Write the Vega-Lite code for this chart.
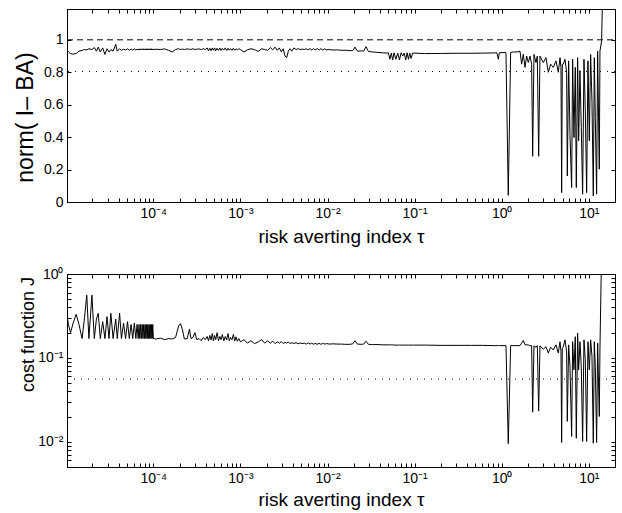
{
  "$schema": "https://vega.github.io/schema/vega-lite/v6.json",
  "autosize": {"type": "pad"},
  "padding": {"left": 13, "top": 8, "right": 0, "bottom": 3},
  "bounds": "flush",
  "spacing": 72,
  "config": {
    "view": {"stroke": "black", "strokeWidth": 1},
    "font": "Liberation Sans",
    "axis": {"domainColor": "black", "tickColor": "black", "labelColor": "black", "titleColor": "black", "grid": false, "labelFont": "Liberation Sans", "titleFont": "Liberation Sans", "labelFontSize": 14, "titleFontWeight": "normal", "tickSize": -4, "labelPadding": 8, "domainWidth": 1, "tickWidth": 1, "labelOverlap": false, "labelFlush": false}
  },
  "datasets": {
    "s": [
      {"x":1.02e-5,"n":0.935,"c":0.32},{"x":1.06e-5,"n":0.925,"c":0.25},{"x":1.12e-5,"n":0.915,"c":0.2},{"x":1.2e-5,"n":0.912,"c":0.26},{"x":1.3e-5,"n":0.915,"c":0.33},{"x":1.4e-5,"n":0.93,"c":0.25},{"x":1.52e-5,"n":0.935,"c":0.17},{"x":1.62e-5,"n":0.94,"c":0.3},{"x":1.72e-5,"n":0.938,"c":0.56},{"x":1.82e-5,"n":0.945,"c":0.17},{"x":1.97e-5,"n":0.94,"c":0.56},{"x":2.1e-5,"n":0.952,"c":0.17},{"x":2.22e-5,"n":0.93,"c":0.29},{"x":2.33e-5,"n":0.955,"c":0.34},{"x":2.46e-5,"n":0.925,"c":0.17},{"x":2.62e-5,"n":0.95,"c":0.27},{"x":2.78e-5,"n":0.91,"c":0.17},{"x":2.94e-5,"n":0.945,"c":0.31},{"x":3.1e-5,"n":0.925,"c":0.17},{"x":3.25e-5,"n":0.94,"c":0.34},{"x":3.45e-5,"n":0.93,"c":0.17},{"x":3.7e-5,"n":0.972,"c":0.29},{"x":3.85e-5,"n":0.93,"c":0.17},{"x":4.1e-5,"n":0.945,"c":0.34},{"x":4.3e-5,"n":0.935,"c":0.17},{"x":4.55e-5,"n":0.942,"c":0.26},{"x":4.8e-5,"n":0.938,"c":0.17},{"x":5.05e-5,"n":0.944,"c":0.27},{"x":5.3e-5,"n":0.936,"c":0.17},{"x":5.55e-5,"n":0.943,"c":0.25},{"x":5.8e-5,"n":0.937,"c":0.17},{"x":6.05e-5,"n":0.944,"c":0.26},{"x":6.3e-5,"n":0.936,"c":0.17},{"x":6.5e-5,"n":0.943,"c":0.25},
      {"x":6.7e-5,"n":0.938,"c":0.17},{"x":6.85e-5,"n":0.944,"c":0.25},{"x":7.0e-5,"n":0.937,"c":0.17},{"x":7.15e-5,"n":0.945,"c":0.25},{"x":7.3e-5,"n":0.938,"c":0.17},{"x":7.45e-5,"n":0.944,"c":0.25},{"x":7.6e-5,"n":0.937,"c":0.17},{"x":7.75e-5,"n":0.945,"c":0.25},{"x":7.9e-5,"n":0.938,"c":0.17},{"x":8.05e-5,"n":0.944,"c":0.25},{"x":8.2e-5,"n":0.937,"c":0.17},{"x":8.35e-5,"n":0.945,"c":0.25},{"x":8.5e-5,"n":0.938,"c":0.17},{"x":8.65e-5,"n":0.944,"c":0.25},{"x":8.8e-5,"n":0.937,"c":0.17},{"x":8.95e-5,"n":0.945,"c":0.25},{"x":9.1e-5,"n":0.938,"c":0.17},{"x":9.25e-5,"n":0.944,"c":0.25},{"x":9.4e-5,"n":0.937,"c":0.17},{"x":9.55e-5,"n":0.945,"c":0.25},{"x":9.7e-5,"n":0.938,"c":0.17},{"x":9.85e-5,"n":0.944,"c":0.25},{"x":1.0e-4,"n":0.94,"c":0.17},
      {"x":1.08e-4,"n":0.942,"c":0.168},{"x":1.2e-4,"n":0.94,"c":0.172},{"x":1.35e-4,"n":0.944,"c":0.165},{"x":1.5e-4,"n":0.935,"c":0.17},{"x":1.65e-4,"n":0.925,"c":0.168},{"x":1.8e-4,"n":0.94,"c":0.175},{"x":1.95e-4,"n":0.945,"c":0.24},{"x":2.05e-4,"n":0.94,"c":0.256},{"x":2.15e-4,"n":0.943,"c":0.22},{"x":2.27e-4,"n":0.94,"c":0.168},{"x":2.45e-4,"n":0.944,"c":0.17},{"x":2.6e-4,"n":0.942,"c":0.22},{"x":2.7e-4,"n":0.94,"c":0.17},{"x":2.85e-4,"n":0.945,"c":0.175},{"x":3.0e-4,"n":0.94,"c":0.2},{"x":3.15e-4,"n":0.942,"c":0.165},{"x":3.35e-4,"n":0.944,"c":0.17},{"x":3.55e-4,"n":0.94,"c":0.16},{"x":3.75e-4,"n":0.945,"c":0.175},{"x":3.95e-4,"n":0.94,"c":0.165},{"x":4.15e-4,"n":0.95,"c":0.18},{"x":4.3e-4,"n":0.932,"c":0.16},{"x":4.45e-4,"n":0.948,"c":0.185},{"x":4.6e-4,"n":0.933,"c":0.163},{"x":4.75e-4,"n":0.95,"c":0.195},{"x":4.9e-4,"n":0.935,"c":0.16},{"x":5.05e-4,"n":0.95,"c":0.185},{"x":5.2e-4,"n":0.932,"c":0.165},{"x":5.4e-4,"n":0.948,"c":0.2},{"x":5.6e-4,"n":0.935,"c":0.16},{"x":5.8e-4,"n":0.95,"c":0.18},{"x":6.0e-4,"n":0.934,"c":0.165},{"x":6.2e-4,"n":0.947,"c":0.19},{"x":6.45e-4,"n":0.937,"c":0.16},{"x":6.7e-4,"n":0.95,"c":0.18},{"x":6.95e-4,"n":0.934,"c":0.163},{"x":7.2e-4,"n":0.948,"c":0.195},{"x":7.45e-4,"n":0.936,"c":0.16},{"x":7.7e-4,"n":0.946,"c":0.175},{"x":8.0e-4,"n":0.935,"c":0.165},{"x":8.3e-4,"n":0.948,"c":0.19},{"x":8.6e-4,"n":0.936,"c":0.16},{"x":8.9e-4,"n":0.945,"c":0.178},{"x":9.2e-4,"n":0.938,"c":0.158},{"x":9.6e-4,"n":0.945,"c":0.17},{"x":1.0e-3,"n":0.94,"c":0.155},
      {"x":1.1e-3,"n":0.925,"c":0.165},{"x":1.2e-3,"n":0.938,"c":0.15},{"x":1.32e-3,"n":0.945,"c":0.16},{"x":1.45e-3,"n":0.94,"c":0.148},{"x":1.6e-3,"n":0.928,"c":0.155},{"x":1.75e-3,"n":0.945,"c":0.165},{"x":1.9e-3,"n":0.94,"c":0.15},{"x":2.05e-3,"n":0.935,"c":0.16},{"x":2.2e-3,"n":0.952,"c":0.15},{"x":2.35e-3,"n":0.938,"c":0.158},{"x":2.5e-3,"n":0.955,"c":0.148},{"x":2.65e-3,"n":0.935,"c":0.155},{"x":2.8e-3,"n":0.95,"c":0.15},{"x":2.95e-3,"n":0.925,"c":0.156},{"x":3.1e-3,"n":0.945,"c":0.148},{"x":3.25e-3,"n":0.9,"c":0.153},{"x":3.4e-3,"n":0.89,"c":0.15},{"x":3.55e-3,"n":0.93,"c":0.155},{"x":3.7e-3,"n":0.945,"c":0.148},{"x":3.9e-3,"n":0.93,"c":0.152},{"x":4.1e-3,"n":0.95,"c":0.148},{"x":4.35e-3,"n":0.94,"c":0.152},{"x":4.6e-3,"n":0.945,"c":0.147},{"x":4.85e-3,"n":0.94,"c":0.151},{"x":5.1e-3,"n":0.943,"c":0.148},{"x":5.4e-3,"n":0.94,"c":0.15},{"x":5.7e-3,"n":0.945,"c":0.146},{"x":6.0e-3,"n":0.938,"c":0.151},{"x":6.3e-3,"n":0.946,"c":0.146},{"x":6.6e-3,"n":0.936,"c":0.15},{"x":6.9e-3,"n":0.947,"c":0.145},{"x":7.2e-3,"n":0.937,"c":0.149},{"x":7.6e-3,"n":0.946,"c":0.145},{"x":8.0e-3,"n":0.936,"c":0.149},{"x":8.4e-3,"n":0.946,"c":0.145},{"x":8.8e-3,"n":0.937,"c":0.149},{"x":9.3e-3,"n":0.944,"c":0.146},{"x":9.8e-3,"n":0.938,"c":0.148},
      {"x":1.05e-2,"n":0.94,"c":0.146},{"x":1.15e-2,"n":0.937,"c":0.147},{"x":1.3e-2,"n":0.938,"c":0.146},{"x":1.45e-2,"n":0.935,"c":0.146},{"x":1.6e-2,"n":0.936,"c":0.145},{"x":1.8e-2,"n":0.933,"c":0.145},{"x":1.95e-2,"n":0.934,"c":0.147},{"x":2.07e-2,"n":0.955,"c":0.16},{"x":2.2e-2,"n":0.93,"c":0.146},{"x":2.45e-2,"n":0.932,"c":0.145},{"x":2.6e-2,"n":0.93,"c":0.146},{"x":2.76e-2,"n":0.958,"c":0.158},{"x":2.95e-2,"n":0.928,"c":0.145},{"x":3.3e-2,"n":0.925,"c":0.144},{"x":3.8e-2,"n":0.922,"c":0.144},{"x":4.3e-2,"n":0.92,"c":0.143},{"x":4.8e-2,"n":0.918,"c":0.143},
      {"x":5.0e-2,"n":0.92,"c":0.143},{"x":5.2e-2,"n":0.88,"c":0.143},{"x":5.4e-2,"n":0.918,"c":0.143},{"x":5.6e-2,"n":0.875,"c":0.143},{"x":5.8e-2,"n":0.92,"c":0.142},{"x":6.1e-2,"n":0.88,"c":0.142},{"x":6.4e-2,"n":0.918,"c":0.142},{"x":6.7e-2,"n":0.876,"c":0.142},{"x":7.0e-2,"n":0.92,"c":0.142},{"x":7.3e-2,"n":0.9,"c":0.142},{"x":7.6e-2,"n":0.918,"c":0.142},{"x":7.9e-2,"n":0.876,"c":0.142},{"x":8.2e-2,"n":0.92,"c":0.142},{"x":8.5e-2,"n":0.88,"c":0.142},{"x":8.8e-2,"n":0.918,"c":0.142},{"x":9.1e-2,"n":0.885,"c":0.142},{"x":9.5e-2,"n":0.918,"c":0.142},
      {"x":0.1,"n":0.918,"c":0.142},{"x":0.13,"n":0.915,"c":0.142},{"x":0.2,"n":0.916,"c":0.141},{"x":0.3,"n":0.917,"c":0.141},{"x":0.45,"n":0.917,"c":0.141},{"x":0.6,"n":0.918,"c":0.141},{"x":0.8,"n":0.919,"c":0.14},{"x":0.88,"n":0.92,"c":0.14},{"x":0.915,"n":0.88,"c":0.14},{"x":0.94,"n":0.92,"c":0.14},{"x":1.09,"n":0.922,"c":0.14},{"x":1.12,"n":0.92,"c":0.14},{"x":1.19,"n":0.041,"c":0.0095},{"x":1.267,"n":0.922,"c":0.14},
      {"x":1.36,"n":0.925,"c":0.14},{"x":1.5,"n":0.925,"c":0.14},{"x":1.622,"n":0.93,"c":0.14},{"x":1.695,"n":0.85,"c":0.15},{"x":1.771,"n":0.912,"c":0.161},{"x":1.852,"n":0.83,"c":0.143},{"x":1.934,"n":0.9,"c":0.143},{"x":2.021,"n":0.86,"c":0.143},{"x":2.113,"n":0.9,"c":0.139},{"x":2.208,"n":0.85,"c":0.14},{"x":2.268,"n":0.282,"c":0.0225},{"x":2.349,"n":0.91,"c":0.139},{"x":2.476,"n":0.86,"c":0.134},{"x":2.565,"n":0.9,"c":0.14},{"x":2.657,"n":0.282,"c":0.0232},{"x":2.752,"n":0.9,"c":0.139},{"x":3.006,"n":0.86,"c":0.127},{"x":3.225,"n":0.89,"c":0.136},{"x":3.43,"n":0.8,"c":0.114},{"x":3.648,"n":0.85,"c":0.134},{"x":3.914,"n":0.83,"c":0.124},{"x":4.2,"n":0.87,"c":0.143},{"x":4.467,"n":0.8,"c":0.114},{"x":4.67,"n":0.89,"c":0.156},{"x":4.795,"n":0.83,"c":0.12},{"x":4.88,"n":0.058,"c":0.0098},{"x":4.966,"n":0.85,"c":0.13},{"x":5.098,"n":0.85,"c":0.136},{"x":5.328,"n":0.88,"c":0.164},{"x":5.568,"n":0.8,"c":0.12},{"x":5.667,"n":0.161,"c":0.0175},{"x":5.87,"n":0.87,"c":0.143},{"x":6.081,"n":0.418,"c":0.079},{"x":6.355,"n":0.089,"c":0.0116},{"x":6.525,"n":0.88,"c":0.156},{"x":6.759,"n":0.397,"c":0.072},{"x":7.0,"n":0.83,"c":0.179},{"x":7.19,"n":0.089,"c":0.011},{"x":7.447,"n":0.89,"c":0.197},{"x":7.646,"n":0.377,"c":0.072},{"x":7.92,"n":0.81,"c":0.156},{"x":8.2,"n":0.459,"c":0.079},{"x":8.5,"n":0.048,"c":0.0101},{"x":8.805,"n":0.88,"c":0.164},{"x":9.12,"n":0.562,"c":0.095},{"x":9.45,"n":0.058,"c":0.0101},{"x":9.79,"n":0.87,"c":0.156},{"x":10.14,"n":0.377,"c":0.072},{"x":10.5,"n":0.91,"c":0.164},{"x":10.88,"n":0.623,"c":0.104},{"x":11.27,"n":0.037,"c":0.0096},{"x":11.57,"n":0.89,"c":0.156},{"x":11.88,"n":0.521,"c":0.079},{"x":12.3,"n":0.048,"c":0.0098},{"x":12.64,"n":0.93,"c":0.15},{"x":13.2,"n":0.202,"c":0.02},{"x":13.44,"n":0.93,"c":0.13},{"x":14.04,"n":0.994,"c":2.0},{"x":14.68,"n":1.5,"c":3.0}
    ]
  },
  "vconcat": [
    {
      "width": 548,
      "height": 193,
      "layer": [
        {
          "data": {"name": "s"},
          "mark": {"type": "line", "color": "black", "strokeWidth": 1, "clip": true},
          "encoding": {
            "x": {"field": "x", "type": "quantitative", "scale": {"type": "log", "domain": [1.02e-5, 20], "nice": false},
              "axis": {"orient": "bottom", "values": [2e-5,3e-5,4e-5,5e-5,6e-5,7e-5,8e-5,9e-5,1e-4,2e-4,3e-4,4e-4,5e-4,6e-4,7e-4,8e-4,9e-4,1e-3,2e-3,3e-3,4e-3,5e-3,6e-3,7e-3,8e-3,9e-3,1e-2,2e-2,3e-2,4e-2,5e-2,6e-2,7e-2,8e-2,9e-2,0.1,0.2,0.3,0.4,0.5,0.6,0.7,0.8,0.9,1,2,3,4,5,6,7,8,9,10],
                "labelExpr": "abs(log(datum.value)/LN10 - round(log(datum.value)/LN10)) < 0.01 ? '10' + ['⁻⁵','⁻⁴','⁻³','⁻²','⁻¹','⁰','¹'][round(log(datum.value)/LN10)+5] : ''",
                "title": "risk averting index τ", "titleFontSize": 19, "titlePadding": 7}},
            "y": {"field": "n", "type": "quantitative", "scale": {"domain": [0, 1.19], "nice": false},
              "axis": {"orient": "left", "values": [0, 0.2, 0.4, 0.6, 0.8, 1], "format": ".1~f", "title": "norm( I– BA)", "titleFontSize": 23, "titleX": -30, "titleY": 108}}
          }
        },
        {
          "data": {"values": [{"x0": 1.02e-5, "x1": 20, "y": 1}]},
          "mark": {"type": "rule", "color": "black", "strokeDash": [6, 4], "strokeWidth": 1},
          "encoding": {
            "x": {"field": "x0", "type": "quantitative", "axis": {"orient": "top", "values": [2e-5,3e-5,4e-5,5e-5,6e-5,7e-5,8e-5,9e-5,1e-4,2e-4,3e-4,4e-4,5e-4,6e-4,7e-4,8e-4,9e-4,1e-3,2e-3,3e-3,4e-3,5e-3,6e-3,7e-3,8e-3,9e-3,1e-2,2e-2,3e-2,4e-2,5e-2,6e-2,7e-2,8e-2,9e-2,0.1,0.2,0.3,0.4,0.5,0.6,0.7,0.8,0.9,1,2,3,4,5,6,7,8,9,10], "labels": false, "title": null}},
            "x2": {"field": "x1"},
            "y": {"field": "y", "type": "quantitative", "axis": {"orient": "right", "values": [0, 0.2, 0.4, 0.6, 0.8, 1], "labels": false, "title": null}}
          }
        },
        {
          "data": {"values": [{"y": 0.805}]},
          "mark": {"type": "rule", "color": "black", "strokeDash": [1, 6], "strokeWidth": 1},
          "encoding": {"y": {"field": "y", "type": "quantitative", "axis": null}}
        }
      ],
      "resolve": {"axis": {"x": "independent", "y": "independent"}}
    },
    {
      "width": 548,
      "height": 193,
      "layer": [
        {
          "data": {"name": "s"},
          "mark": {"type": "line", "color": "black", "strokeWidth": 1, "clip": true},
          "encoding": {
            "x": {"field": "x", "type": "quantitative", "scale": {"type": "log", "domain": [1.02e-5, 20], "nice": false},
              "axis": {"orient": "bottom", "values": [2e-5,3e-5,4e-5,5e-5,6e-5,7e-5,8e-5,9e-5,1e-4,2e-4,3e-4,4e-4,5e-4,6e-4,7e-4,8e-4,9e-4,1e-3,2e-3,3e-3,4e-3,5e-3,6e-3,7e-3,8e-3,9e-3,1e-2,2e-2,3e-2,4e-2,5e-2,6e-2,7e-2,8e-2,9e-2,0.1,0.2,0.3,0.4,0.5,0.6,0.7,0.8,0.9,1,2,3,4,5,6,7,8,9,10],
                "labelExpr": "abs(log(datum.value)/LN10 - round(log(datum.value)/LN10)) < 0.01 ? '10' + ['⁻⁵','⁻⁴','⁻³','⁻²','⁻¹','⁰','¹'][round(log(datum.value)/LN10)+5] : ''",
                "title": "risk averting index τ", "titleFontSize": 19, "titlePadding": 5}},
            "y": {"field": "c", "type": "quantitative", "scale": {"type": "log", "domain": [0.005, 1], "nice": false},
              "axis": {"orient": "left", "values": [0.006,0.007,0.008,0.009,0.01,0.02,0.03,0.04,0.05,0.06,0.07,0.08,0.09,0.1,0.2,0.3,0.4,0.5,0.6,0.7,0.8,0.9,1],
                "labelExpr": "abs(log(datum.value)/LN10 - round(log(datum.value)/LN10)) < 0.01 ? '10' + ['⁻⁵','⁻⁴','⁻³','⁻²','⁻¹','⁰','¹'][round(log(datum.value)/LN10)+5] : ''",
                "title": "cost function  J", "titleFontSize": 18, "titleX": -30, "titleY": 60}}
          }
        },
        {
          "data": {"values": [{"x0": 1.02e-5, "x1": 20, "y": 0.056}]},
          "mark": {"type": "rule", "color": "black", "strokeDash": [1, 6], "strokeWidth": 1},
          "encoding": {
            "x": {"field": "x0", "type": "quantitative", "axis": {"orient": "top", "values": [2e-5,3e-5,4e-5,5e-5,6e-5,7e-5,8e-5,9e-5,1e-4,2e-4,3e-4,4e-4,5e-4,6e-4,7e-4,8e-4,9e-4,1e-3,2e-3,3e-3,4e-3,5e-3,6e-3,7e-3,8e-3,9e-3,1e-2,2e-2,3e-2,4e-2,5e-2,6e-2,7e-2,8e-2,9e-2,0.1,0.2,0.3,0.4,0.5,0.6,0.7,0.8,0.9,1,2,3,4,5,6,7,8,9,10], "labels": false, "title": null}},
            "x2": {"field": "x1"},
            "y": {"field": "y", "type": "quantitative", "axis": {"orient": "right", "values": [0.006,0.007,0.008,0.009,0.01,0.02,0.03,0.04,0.05,0.06,0.07,0.08,0.09,0.1,0.2,0.3,0.4,0.5,0.6,0.7,0.8,0.9,1], "labels": false, "title": null}}
          }
        }
      ],
      "resolve": {"axis": {"x": "independent", "y": "independent"}}
    }
  ]
}
